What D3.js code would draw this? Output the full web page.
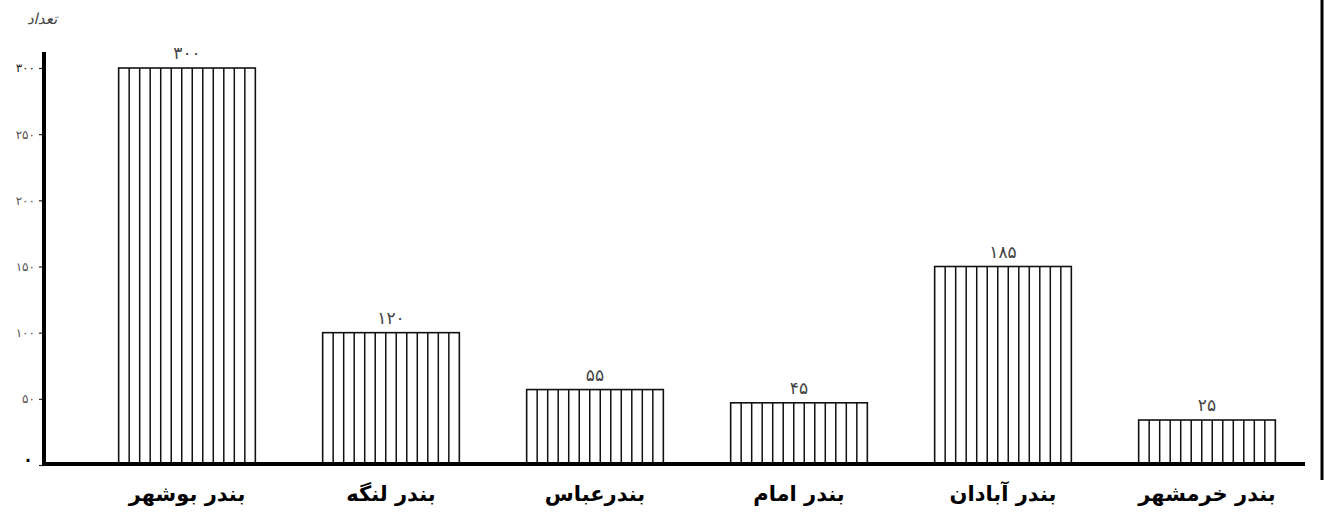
<!DOCTYPE html>
<html><head><meta charset="utf-8">
<script src="https://cdn.jsdelivr.net/npm/d3@7"></script>
<style>
html,body{margin:0;padding:0;background:#fff;}
svg{display:block;}
</style></head>
<body>
<svg id="chart" width="1327" height="517"></svg>
<script>
const categories = ["بندر بوشهر","بندر لنگه","بندرعباس","بندر امام","بندر آبادان","بندر خرمشهر"];
const values = [300, 100, 57, 47, 150, 34];          // bar heights
const valueLabels = ["۳۰۰","۱۲۰","۵۵","۴۵","۱۸۵","۲۵"]; // numbers written above the bars
const tickValues = [0, 50, 100, 150, 200, 250, 300];
const tickLabels = ["۰","۵۰","۱۰۰","۱۵۰","۲۰۰","۲۵۰","۳۰۰"];
const yTitle = "تعداد";

const svg = d3.select("#chart");
const x = d3.scaleBand().domain(categories).range([85, 1309]).paddingInner(0.33).paddingOuter(0.165);
const y = d3.scaleLinear().domain([0, 300]).range([465, 68]);

const fa = "'DejaVu Sans', sans-serif";

// bars
const g = svg.append("g");
categories.forEach((c, i) => {
  const x0 = x(c), w = x.bandwidth(), y0 = y(values[i]), h = y(0) - y0;
  const bg = g.append("g");
  bg.append("rect").attr("x", x0).attr("y", y0).attr("width", w).attr("height", h)
    .attr("fill", "#fff").attr("stroke", "#111").attr("stroke-width", 1.6);
  const n = Math.round(w / 10.5);
  const step = w / n;
  bg.selectAll("line").data(d3.range(1, n)).join("line")
    .attr("x1", k => x0 + k * step).attr("x2", k => x0 + k * step)
    .attr("y1", y0).attr("y2", y(0))
    .attr("stroke", "#111").attr("stroke-width", 1.5);
  bg.append("text").attr("x", x0 + w / 2).attr("y", y0 - 9)
    .attr("text-anchor", "middle").attr("font-family", fa).attr("font-size", 17)
    .attr("fill", "#444").text(valueLabels[i]);
});

// y axis
const yAxis = d3.axisLeft(y).tickValues(tickValues).tickSize(5).tickFormat((d, i) => tickLabels[i]);
const ya = svg.append("g").attr("transform", "translate(44,0)").call(yAxis);
ya.select(".domain").remove();
ya.selectAll(".tick line").attr("stroke", "#222").attr("stroke-width", 1.2);
ya.selectAll(".tick text").attr("font-family", fa).attr("font-size", 12).attr("fill", "#555").attr("x", -9);
ya.selectAll(".tick").filter(d => d === 0).select("text").attr("font-size", 26).attr("fill", "#000").attr("dy", "0.1em");
ya.selectAll(".tick").filter(d => d === 300).select("text").attr("fill", "#222");
svg.append("line").attr("x1", 44).attr("x2", 44).attr("y1", 52).attr("y2", 466)
  .attr("stroke", "#000").attr("stroke-width", 4);

// baseline
svg.append("line").attr("x1", 42).attr("x2", 1305).attr("y1", y(0) - 1).attr("y2", y(0) - 1)
  .attr("stroke", "#000").attr("stroke-width", 4);

// category labels
svg.append("g").selectAll("text").data(categories).join("text")
  .attr("x", d => x(d) + x.bandwidth() / 2).attr("y", 501)
  .attr("text-anchor", "middle").attr("font-family", fa).attr("font-weight", "bold")
  .attr("font-size", 21).attr("fill", "#000").attr("direction", "rtl").text(d => d);

// y title
svg.append("text").attr("x", 42).attr("y", 24).attr("text-anchor", "middle")
  .attr("font-family", fa).attr("font-size", 15).attr("font-style", "italic")
  .attr("fill", "#444").text(yTitle);

// right border
svg.append("line").attr("x1", 1322).attr("x2", 1322).attr("y1", 0).attr("y2", 480)
  .attr("stroke", "#000").attr("stroke-width", 3);
</script>
</body></html>
